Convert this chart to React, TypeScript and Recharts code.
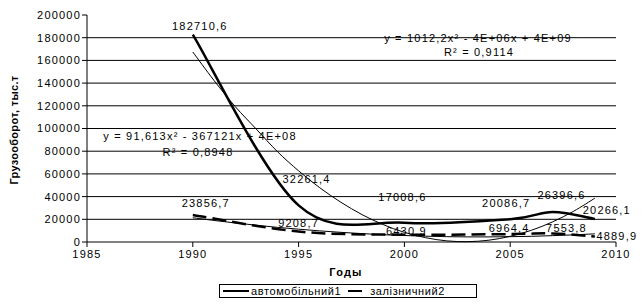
import React from "react";
import {
  LineChart,
  Line,
  XAxis,
  YAxis,
  CartesianGrid,
  LabelList,
  Customized,
} from "recharts";

// data points
const years = [1990, 1995, 2000, 2005, 2007, 2009];
const auto = [182710.6, 32261.4, 17008.6, 20086.7, 26396.6, 20266.1];
const rail = [23856.7, 9208.7, 6430.9, 6964.4, 7553.8, 4889.9];

const trendYears = [
  1990, 1991, 1992, 1993, 1994, 1995, 1996, 1997, 1998, 1999, 2000, 2001,
  2002, 2003, 2004, 2005, 2006, 2007, 2008, 2009,
];
const autoTrend = [
  167400, 142400, 119400, 99500, 79600, 62700, 47800, 35000, 24100, 15300,
  8500, 3800, 1000, 300, 1600, 5000, 10300, 17700, 27100, 38600,
];
const railTrend = [
  21400, 19000, 16800, 14800, 12900, 11300, 9800, 8500, 7400, 6400, 5700,
  5100, 4700, 4500, 4500, 4700, 5000, 5600, 6300, 7200,
];

const xTicks = [1985, 1990, 1995, 2000, 2005, 2010];
const yTicks = [
  0, 20000, 40000, 60000, 80000, 100000, 120000, 140000, 160000, 180000,
  200000,
];
const gridValues = yTicks.slice(1, -1);

// label offsets (text centre relative to the point), like Excel's placed labels
const autoLabelPos = [
  [7, -8],
  [8, -26],
  [-2, -26],
  [-4, -16],
  [9, -17],
  [12, -9],
];
const railLabelPos = [
  [13, -12],
  [0, -8],
  [2, -4],
  [-1, -6],
  [14, -5],
  [22, 0],
];

const toPoints = (xs: number[], ys: number[]) =>
  xs.map((x, i) => ({ x, y: ys[i] }));

const autoData = toPoints(years, auto);
const railData = toPoints(years, rail);
const autoTrendData = toPoints(trendYears, autoTrend);
const railTrendData = toPoints(trendYears, railTrend);

const font = "'Liberation Sans', Arial, sans-serif";
const txt = { fontFamily: font, fontSize: 11, fill: "#000", letterSpacing: 1.2 };

// Excel-like smoothing (Catmull-Rom as bezier)
const excelSmooth: any = (context: any) => {
  let pts: number[][] = [];
  return {
    areaStart() {},
    areaEnd() {},
    lineStart() {
      pts = [];
    },
    point(x: number, y: number) {
      pts.push([+x, +y]);
    },
    lineEnd() {
      if (!pts.length) return;
      context.moveTo(pts[0][0], pts[0][1]);
      for (let i = 0; i < pts.length - 1; i++) {
        const p0 = pts[Math.max(i - 1, 0)];
        const p1 = pts[i];
        const p2 = pts[i + 1];
        const p3 = pts[Math.min(i + 2, pts.length - 1)];
        context.bezierCurveTo(
          p1[0] + (p2[0] - p0[0]) / 6,
          p1[1] + (p2[1] - p0[1]) / 6,
          p2[0] - (p3[0] - p1[0]) / 6,
          p2[1] - (p3[1] - p1[1]) / 6,
          p2[0],
          p2[1]
        );
      }
    },
  };
};

const fmt = (v: number) => String(v).replace(".", ",");

const makeLabel = (pos: number[][]) => (props: any) => {
  const { x, y, value, index } = props;
  const [dx, dy] = pos[index] || [0, -10];
  return (
    <text
      x={x + dx}
      y={y + dy}
      dy="0.35em"
      textAnchor="middle"
      style={txt}
    >
      {fmt(value)}
    </text>
  );
};

const Annotations = () => (
  <g>
    <text x={478} y={38} dy="0.35em" textAnchor="middle" style={txt}>
      y = 1012,2x² - 4E+06x + 4E+09
    </text>
    <text x={479} y={52} dy="0.35em" textAnchor="middle" style={txt}>
      R² = 0,9114
    </text>
    <text x={200} y={136} dy="0.35em" textAnchor="middle" style={txt}>
      y = 91,613x² - 367121x + 4E+08
    </text>
    <text x={198} y={152} dy="0.35em" textAnchor="middle" style={txt}>
      R² = 0,8948
    </text>
    <text
      x={346}
      y={272}
      dy="0.35em"
      textAnchor="middle"
      style={{ ...txt, fontWeight: "bold" }}
    >
      Годы
    </text>
    <text
      transform="translate(14,130) rotate(-90)"
      dy="0.35em"
      textAnchor="middle"
      style={{ ...txt, fontWeight: "bold", letterSpacing: 0.3 }}
    >
      Грузооборот, тыс.т
    </text>
  </g>
);

export default function App() {
  return (
    <div
      style={{
        position: "absolute",
        left: 0,
        top: 0,
        width: 642,
        height: 305,
        background: "#fff",
      }}
    >
      <LineChart
        width={642}
        height={305}
        margin={{ top: 15, right: 26, bottom: 33, left: 0 }}
      >
        <CartesianGrid
          horizontal
          vertical={false}
          stroke="#000"
          horizontalValues={gridValues}
        />
        <XAxis
          dataKey="x"
          type="number"
          domain={[1985, 2010]}
          ticks={xTicks}
          interval={0}
          height={30}
          tickSize={5}
          tickMargin={3}
          stroke="#000"
          tick={txt}
          allowDataOverflow
        />
        <YAxis
          type="number"
          domain={[0, 200000]}
          ticks={yTicks}
          interval={0}
          width={87}
          tickSize={5}
          tickMargin={1}
          stroke="#000"
          tick={txt}
        />
        <Line
          data={autoTrendData}
          dataKey="y"
          type={excelSmooth}
          stroke="#000"
          strokeWidth={1}
          dot={false}
          isAnimationActive={false}
        />
        <Line
          data={railTrendData}
          dataKey="y"
          type={excelSmooth}
          stroke="#000"
          strokeWidth={1}
          dot={false}
          isAnimationActive={false}
        />
        <Line
          data={autoData}
          dataKey="y"
          type={excelSmooth}
          stroke="#000"
          strokeWidth={2.5}
          dot={false}
          isAnimationActive={false}
        >
          <LabelList dataKey="y" content={makeLabel(autoLabelPos)} />
        </Line>
        <Line
          data={railData}
          dataKey="y"
          type={excelSmooth}
          stroke="#000"
          strokeWidth={2.5}
          strokeDasharray="14 6"
          dot={false}
          isAnimationActive={false}
        >
          <LabelList dataKey="y" content={makeLabel(railLabelPos)} />
        </Line>
        <Customized component={Annotations} />
      </LineChart>
      <div
        style={{
          position: "absolute",
          left: 219,
          top: 284,
          width: 256,
          height: 12,
          border: "1px solid #000",
          display: "flex",
          alignItems: "center",
          fontFamily: font,
          fontSize: 11,
          letterSpacing: 0.6,
          lineHeight: "12px",
          whiteSpace: "nowrap",
        }}
      >
        <span
          style={{
            display: "inline-block",
            width: 26,
            borderTop: "2px solid #000",
            marginLeft: 3,
            marginRight: 2,
          }}
        />
        <span>автомобільний1</span>
        <span
          style={{
            display: "inline-block",
            width: 14,
            borderTop: "2px solid #000",
            marginLeft: 7,
            marginRight: 8,
          }}
        />
        <span>залізничний2</span>
      </div>
    </div>
  );
}
